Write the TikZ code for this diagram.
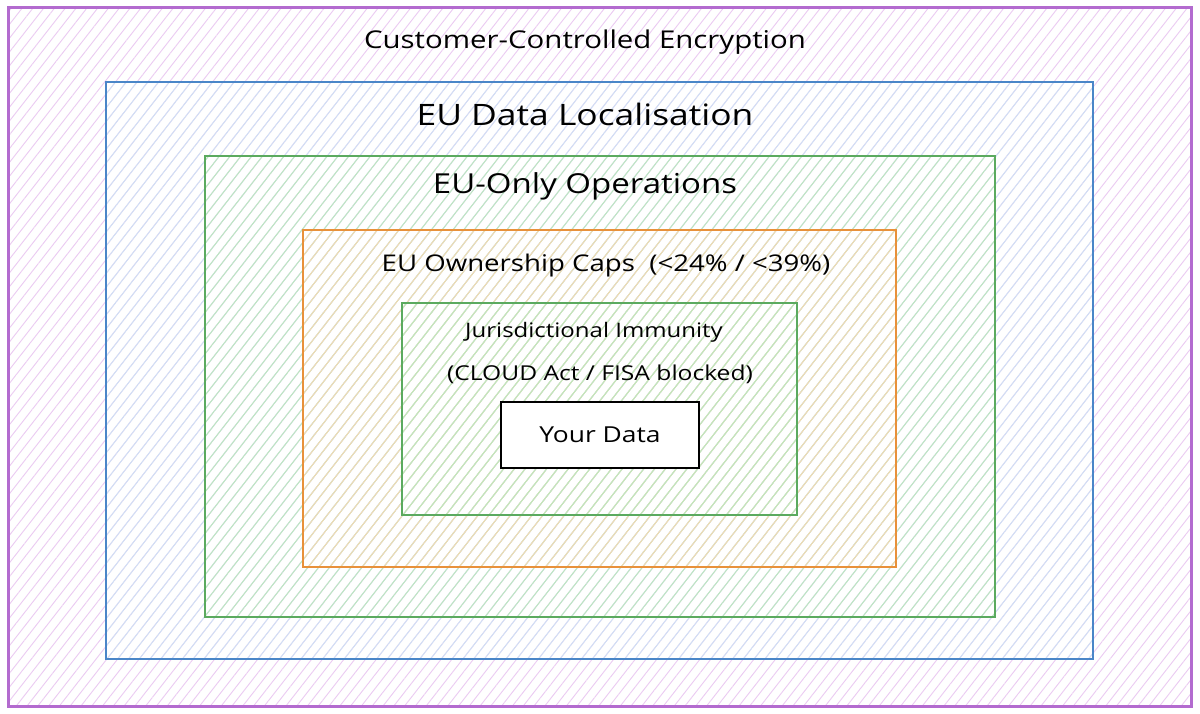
\documentclass[tikz,border=0pt]{standalone}
\usepackage{fontspec}
\setmainfont{Open Sans}[FakeStretch=1.2]
\usetikzlibrary{patterns.meta}
\definecolor{cpurple}{HTML}{B36BCF}
\definecolor{cblue}{HTML}{4A86C8}
\definecolor{cgreen}{HTML}{5BAA5F}
\definecolor{corange}{HTML}{E8913A}
\definecolor{hpurple}{HTML}{EBCBF2}
\definecolor{hblue}{HTML}{CFE1F5}
\definecolor{hgreen}{HTML}{BEE8BE}
\definecolor{horange}{HTML}{F3DAB2}
\tikzset{
  layer/.style={rectangle, inner sep=0pt, line width=2pt},
  hatch/.style={pattern={Lines[angle=52,distance=8.5pt,line width=0.9pt]}},
  lbl/.style={inner sep=0pt, text=black},
}
\begin{document}
\begin{tikzpicture}[x=1pt,y=-1pt]
\useasboundingbox (0,0) rectangle (1200,713);
\fill[white] (0,0) rectangle (1200,713);
\node[layer, draw=cpurple, line width=3pt, hatch, pattern color=hpurple, minimum width=1183pt, minimum height=699pt] (enc) at (599.5,356.5) {};
\node[layer, draw=cblue, hatch, pattern color=hblue, minimum width=987pt, minimum height=577pt] (loc) at (599.5,370.5) {};
\node[layer, draw=cgreen, hatch, pattern color=hgreen, minimum width=790pt, minimum height=461pt] (ops) at (600,386.5) {};
\node[layer, draw=corange, hatch, pattern color=horange, minimum width=593pt, minimum height=337pt] (own) at (599.5,398.5) {};
\node[layer, draw=cgreen, hatch, pattern color=hgreen, minimum width=395pt, minimum height=212pt] (jur) at (599.5,409) {};
\node[layer, draw=black, fill=white, minimum width=198pt, minimum height=66pt, font=\fontsize{22}{26}\selectfont] (data) at (600,435) {Your Data};
\node[lbl, font=\fontsize{24.5}{29}\selectfont] (tenc) at (585,42) {Customer-Controlled Encryption};
\node[lbl, font=\fontsize{29.5}{34}\selectfont] (tloc) at (585,114) {EU Data Localisation};
\node[lbl, font=\fontsize{27.5}{32}\selectfont] (tops) at (585,186) {EU-Only Operations};
\node[lbl, font=\fontsize{23}{27}\selectfont] (town) at (606,266) {EU Ownership Caps\ \ (<24\% / <39\%)};
\node[lbl, font=\fontsize{20}{24}\selectfont] (tjur) at (594,332) {Jurisdictional Immunity};
\node[lbl, font=\fontsize{20.5}{24}\selectfont] (tjur2) at (600,374) {(CLOUD Act / FISA blocked)};
\end{tikzpicture}
\end{document}
